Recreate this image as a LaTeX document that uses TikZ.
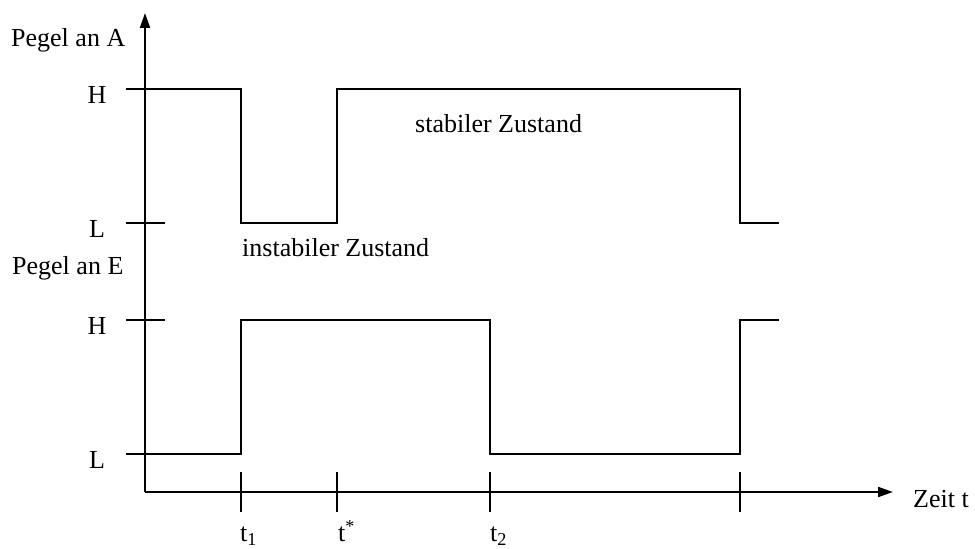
\documentclass[tikz,border=0pt]{standalone}
\usepackage{fontspec}
\setmainfont{Liberation Serif}
\usepackage{tikz}
\usetikzlibrary{arrows.meta}
\tikzset{
  axis/.style={draw=black, line width=2pt, -{Triangle[length=15pt,width=10pt]}},
  signal/.style={draw=black, line width=2pt},
  tick/.style={draw=black, line width=2pt},
  label/.style={black, font=\fontsize{26}{30}\selectfont, inner sep=0pt}
}
\begin{document}
\begin{tikzpicture}[x=1pt, y=1pt]
  \useasboundingbox (0,0) rectangle (975,549);
  \coordinate (O) at (145,57);
  \coordinate (Ytop) at (145,536);
  \coordinate (Xend) at (893,57);
  \coordinate (HA) at (145,460);
  \coordinate (LA) at (145,326);
  \coordinate (HE) at (145,229);
  \coordinate (LE) at (145,95);
  \coordinate (t1) at (241,57);
  \coordinate (ts) at (337,57);
  \coordinate (t2) at (490,57);
  \coordinate (te) at (740,57);
  \coordinate (tend) at (779,57);
  \draw[axis] (O) -- (Ytop);
  \draw[axis] (O) -- (Xend);
  \foreach \lv in {HA,LA,HE,LE}
    \draw[tick] ([xshift=-19pt]\lv) -- ([xshift=20pt]\lv);
  \foreach \t in {t1,ts,t2,te}
    \draw[tick] ([yshift=-20pt]\t) -- ([yshift=20pt]\t);
  \draw[signal] (HA) -- (t1 |- HA) -- (t1 |- LA) -- (ts |- LA) -- (ts |- HA)
    -- (te |- HA) -- (te |- LA) -- (tend |- LA);
  \draw[signal] (LE) -- (t1 |- LE) -- (t1 |- HE) -- (t2 |- HE) -- (t2 |- LE)
    -- (te |- LE) -- (te |- HE) -- (tend |- HE);
  \node[label, anchor=base west] (pegelA) at (11,502) {Pegel an A};
  \node[label, anchor=base west] (pegelE) at (12,274) {Pegel an E};
  \node[label, anchor=base] (hA) at (97,445) {H};
  \node[label, anchor=base] (lA) at (97,311) {L};
  \node[label, anchor=base] (hE) at (97,214) {H};
  \node[label, anchor=base] (lE) at (97,80) {L};
  \node[label, anchor=base west] (stabil) at (415,416) {stabiler Zustand};
  \node[label, anchor=base west] (instabil) at (242,292) {instabiler Zustand};
  \node[label, anchor=base west] (zeit) at (913,41) {Zeit t};
  \node[label, anchor=base west] (lt1) at (240,7) {t\textsubscript{1}};
  \node[label, anchor=base west] (lts) at (338,7) {t\textsuperscript{*}};
  \node[label, anchor=base west] (lt2) at (490,7) {t\textsubscript{2}};
\end{tikzpicture}
\end{document}
